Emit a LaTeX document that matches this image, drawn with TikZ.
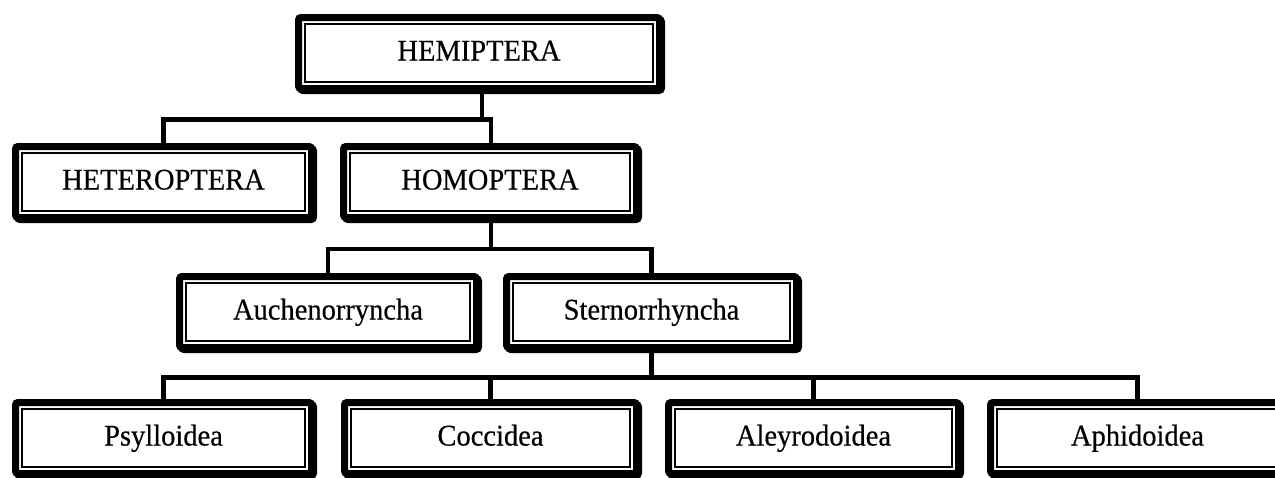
\documentclass[tikz,border=0pt]{standalone}
\usepackage{fontspec}
\setmainfont{Liberation Serif}[FakeStretch=0.95,FakeBold=0.4]
\begin{document}
\begin{tikzpicture}[x=1pt,y=-1pt,
  taxbox/.style={draw=black, fill=white, line width=7pt, rounded corners=2.5pt,
    minimum height=71pt, inner sep=0pt, font=\fontsize{30}{32}\selectfont,
    text height=15pt, text depth=0pt,
    preaction={draw=black, line width=7pt, transform canvas={xshift=2pt, yshift=-2pt}},
    path picture={\draw[line width=2pt, sharp corners]
      ([shift={(6.2pt,-6.2pt)}]path picture bounding box.north west) rectangle
      ([shift={(-6.2pt,6.2pt)}]path picture bounding box.south east);}},
  conn/.style={draw=black, line width=4.5pt}]
\useasboundingbox (0,0) rectangle (1275,477);
\fill[white] (0,0) rectangle (1275,477);
\coordinate (j1) at (0,119.5);
\coordinate (j2) at (0,249);
\coordinate (j3) at (0,377.5);
% boxes
\node[taxbox, minimum width=361pt] (hemi) at (479,53) {HEMIPTERA};
\node[taxbox, minimum width=296pt] (hetero) at (163.5,182) {HETEROPTERA};
\node[taxbox, minimum width=293pt] (homo) at (490,182) {HOMOPTERA};
\node[taxbox, minimum width=297pt] (auch) at (328,312) {Auchenorryncha};
\node[taxbox, minimum width=290pt] (stern) at (651.5,312) {Sternorrhyncha};
\node[taxbox, minimum width=296pt] (psyl) at (163.5,438) {Psylloidea};
\node[taxbox, minimum width=292pt] (cocc) at (490.5,438) {Coccidea};
\node[taxbox, minimum width=290pt] (aley) at (813.5,438) {Aleyrodoidea};
\node[taxbox, minimum width=294pt] (aphi) at (1137.5,438) {Aphidoidea};
% connectors
\draw[conn] ([xshift=3pt]hemi.south) -- ([xshift=3pt]hemi.south |- j1);
\draw[conn] (hetero.north) |- ([xshift=1pt]homo.north |- j1) -- ([xshift=1pt]homo.north);
\draw[conn] ([xshift=1pt]homo.south) -- ([xshift=1pt]homo.south |- j2);
\draw[conn] (auch.north) |- (stern.north |- j2) -- (stern.north);
\draw[conn] (stern.south) -- (stern.south |- j3);
\draw[conn] (psyl.north) |- (aphi.north |- j3) -- (aphi.north);
\draw[conn] (cocc.north) -- (cocc.north |- j3);
\draw[conn] (aley.north) -- (aley.north |- j3);
\end{tikzpicture}
\end{document}
